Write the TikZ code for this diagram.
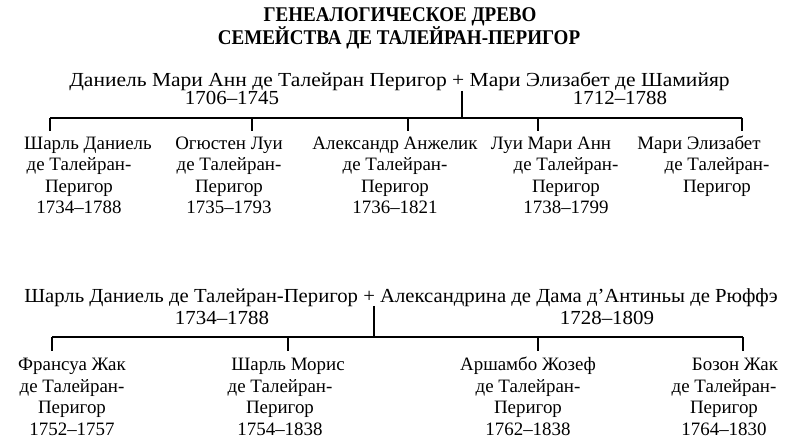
\documentclass[tikz,border=0pt]{standalone}
\usepackage{fontspec}
\setmainfont{Liberation Serif}
\usetikzlibrary{calc}
\newcommand\mlines[1]{\setlength\tabcolsep{0pt}\begin{tabular}[t]{c}#1\end{tabular}}
\begin{document}
\begin{tikzpicture}[x=1bp,y=-1bp,
  txt/.style={inner sep=0pt,outer sep=0pt,anchor=base,font=\fontsize{19}{21.5}\selectfont},
  par/.style={inner sep=0pt,outer sep=0pt,anchor=base,font=\fontsize{20}{22}\selectfont},
  ttl/.style={inner sep=0pt,outer sep=0pt,anchor=base,font=\bfseries\fontsize{21}{23}\selectfont},
  ln/.style={line width=1.1bp,black}]
\useasboundingbox (0,0) rectangle (790,441);
% title
\node[ttl] (t1) at (400,22) {\scalebox{0.91}[1]{ГЕНЕАЛОГИЧЕСКОЕ ДРЕВО}};
\node[ttl] (t2) at (399,45) {\scalebox{0.91}[1]{СЕМЕЙСТВА ДЕ ТАЛЕЙРАН-ПЕРИГОР}};
% first generation
\node[par] (pa) at (399.5,87) {\scalebox{1.08}[1]{Даниель Мари Анн де Талейран Перигор + Мари Элизабет де Шамийяр}};
\node[par] (pad1) at (232,105) {\scalebox{1.05}[1]{1706–1745}};
\node[par] (pad2) at (620,105) {\scalebox{1.05}[1]{1712–1788}};
\node[txt] (a1) at (79,149.5) {\mlines{\hspace*{18bp}Шарль Даниель\\де Талейран-\\Перигор\\1734–1788}};
\node[txt] (a2) at (229,149.5) {\mlines{Огюстен Луи\\де Талейран-\\Перигор\\1735–1793}};
\node[txt] (a3) at (395,149.5) {\mlines{Александр Анжелик\\де Талейран-\\Перигор\\1736–1821}};
\node[txt] (a4) at (566,149.5) {\mlines{Луи Мари Анн\hspace*{30bp}\\де Талейран-\\Перигор\\1738–1799}};
\node[txt] (a5) at (717,149.5) {\mlines{Мари Элизабет\hspace*{36bp}\\де Талейран-\\Перигор}};
\coordinate (pj) at (462,91);
\coordinate (j) at (462,118);
\coordinate (h1) at (50,118);
\coordinate (h2) at (252,118);
\coordinate (h3) at (408,118);
\coordinate (h4) at (538,118);
\coordinate (h5) at (742,118);
\foreach \i in {1,...,5}{\coordinate (e\i) at ($(h\i)+(0,13)$);}
\draw[ln] (pj) -- (j);
\draw[ln] (h1) -- (h5);
\foreach \i in {1,...,5}{\draw[ln] (h\i) -- (e\i);}
% second generation
\node[par] (pb) at (401,303) {\scalebox{1.04}[1]{Шарль Даниель де Талейран-Перигор + Александрина де Дама д’Антиньы де Рюффэ}};
\node[par] (pbd1) at (222,325) {\scalebox{1.05}[1]{1734–1788}};
\node[par] (pbd2) at (607,325) {\scalebox{1.05}[1]{1728–1809}};
\node[txt] (b1) at (72,371) {\mlines{Франсуа Жак\\де Талейран-\\Перигор\\1752–1757}};
\node[txt] (b2) at (280,371) {\mlines{\hspace*{16bp}Шарль Морис\\де Талейран-\\Перигор\\1754–1838}};
\node[txt] (b3) at (528,371) {\mlines{Аршамбо Жозеф\\де Талейран-\\Перигор\\1762–1838}};
\node[txt] (b4) at (724,371) {\mlines{\hspace*{22bp}Бозон Жак\\де Талейран-\\Перигор\\1764–1830}};
\coordinate (qj0) at (374,306);
\coordinate (qj) at (374,337);
\coordinate (k1) at (52,337);
\coordinate (k2) at (288,337);
\coordinate (k3) at (538,337);
\coordinate (k4) at (743,337);
\foreach \i in {1,...,4}{\coordinate (f\i) at ($(k\i)+(0,14)$);}
\draw[ln] (qj0) -- (qj);
\draw[ln] (k1) -- (k4);
\foreach \i in {1,...,4}{\draw[ln] (k\i) -- (f\i);}
\end{tikzpicture}
\end{document}
